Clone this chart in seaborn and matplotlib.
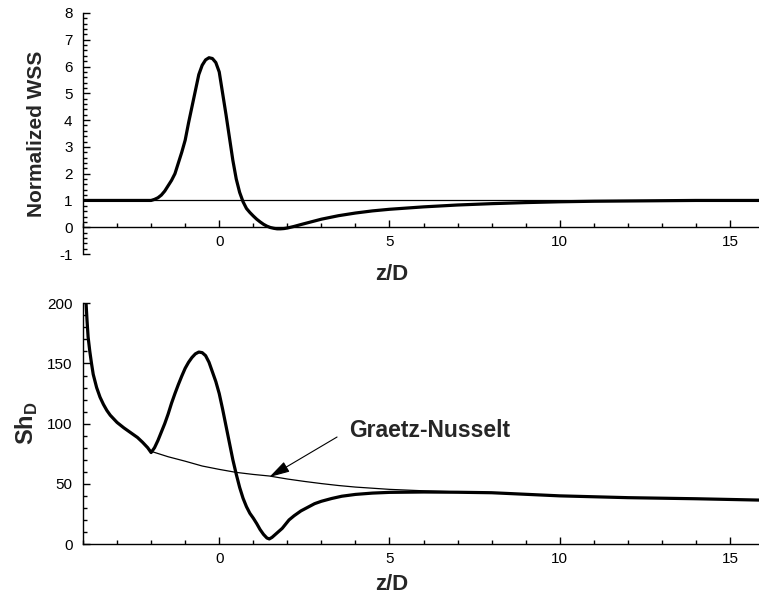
import matplotlib
matplotlib.use("Agg")
import matplotlib.pyplot as plt
from matplotlib.ticker import MultipleLocator
import numpy as np
import pandas as pd
import seaborn as sns

# ---------------- data ----------------
z_wss = [-4.0, -3.0, -2.0, -1.9, -1.8, -1.7, -1.6, -1.5, -1.4, -1.3,
         -1.2, -1.1, -1.0, -0.9, -0.8, -0.7, -0.6, -0.5, -0.4, -0.3,
         -0.2, -0.1, 0.0, 0.1, 0.2, 0.3, 0.4, 0.5, 0.6, 0.7,
         0.8, 0.9, 1.0, 1.1, 1.2, 1.3, 1.4, 1.5, 1.6, 1.7,
         1.8, 1.9, 2.0, 2.2, 2.4, 2.7, 3.0, 3.5, 4.0, 4.5,
         5.0, 6.0, 7.0, 8.0, 9.0, 10.0, 11.0, 12.0, 13.0, 14.0, 15.85]
wss = [1.0, 1.0, 1.0, 1.04, 1.1, 1.2, 1.35, 1.55, 1.75, 2.0,
       2.4, 2.8, 3.25, 3.9, 4.5, 5.1, 5.7, 6.05, 6.25, 6.33,
       6.3, 6.15, 5.8, 5.0, 4.2, 3.35, 2.5, 1.8, 1.3, 0.95,
       0.7, 0.55, 0.42, 0.3, 0.2, 0.11, 0.04, -0.01, -0.04, -0.06,
       -0.06, -0.05, -0.03, 0.03, 0.1, 0.2, 0.3, 0.43, 0.53, 0.61,
       0.67, 0.76, 0.83, 0.88, 0.92, 0.95, 0.97, 0.98, 0.99, 1.0, 1.0]
wss_ref = 1.0

z_sh = [-3.91, -3.88, -3.85, -3.8, -3.75, -3.7, -3.6, -3.5, -3.4, -3.3,
        -3.2, -3.0, -2.8, -2.6, -2.4, -2.25, -2.1, -2.0, -1.9, -1.8,
        -1.7, -1.6, -1.5, -1.4, -1.3, -1.2, -1.1, -1.0, -0.9, -0.8,
        -0.7, -0.6, -0.5, -0.4, -0.3, -0.2, -0.1, 0.0, 0.1, 0.2,
        0.3, 0.4, 0.5, 0.6, 0.7, 0.8, 0.9, 1.0, 1.1, 1.2,
        1.3, 1.4, 1.47, 1.55, 1.65, 1.75, 1.85, 1.95, 2.05, 2.2,
        2.4, 2.6, 2.8, 3.0, 3.3, 3.6, 4.0, 4.5, 5.0, 6.0,
        7.0, 8.0, 9.0, 10.0, 12.0, 14.0, 15.85]
sh = [200, 185, 172, 160, 150, 141, 130, 122, 116, 111,
      107, 101, 96.5, 92.5, 88.5, 84.5, 80, 76, 80, 86,
      93, 100, 108, 117, 125, 132.5, 139.5, 146, 151, 155,
      158, 159.5, 159, 156.5, 151, 143, 135, 125, 112, 98,
      84, 70, 58, 47, 38, 31, 25.5, 21.5, 17, 12,
      8, 5, 4.2, 5.5, 8, 10.5, 13, 16.5, 20, 23.5,
      27.5, 30.5, 33.5, 35.5, 37.8, 39.7, 41.2, 42.3, 42.9, 43.2,
      43.0, 42.6, 41.3, 40.0, 38.5, 37.6, 36.5]

z_gn = [-3.91, -3.88, -3.85, -3.8, -3.75, -3.7, -3.6, -3.5, -3.4, -3.3,
        -3.2, -3.0, -2.8, -2.6, -2.4, -2.2, -2.0, -1.5, -1.0, -0.5,
        0.0, 0.5, 1.0, 1.47, 2.0, 2.5, 3.0, 3.5, 4.0, 5.0,
        6.0, 7.0, 8.0, 9.0, 10.0, 12.0, 14.0, 15.85]
gn = [200, 185, 172, 160, 150, 141, 130, 122, 116, 111,
      107, 101, 96.5, 92.5, 88.5, 83, 77, 72.5, 68.8, 64.8,
      62.0, 59.5, 57.8, 56.5, 54.0, 52.0, 50.2, 48.6, 47.3, 45.4,
      44.2, 43.3, 42.7, 41.4, 40.0, 38.5, 37.6, 36.5]

gn_label = "Graetz-Nusselt"
gn_arrow_head = (1.47, 55.6)
gn_arrow_tail = (3.46, 88.9)
gn_text_pos = (3.82, 94.7)

# ---------------- style ----------------
sns.set_theme(style="ticks")
plt.rcParams["font.family"] = ["Liberation Sans", "DejaVu Sans"]
plt.rcParams["mathtext.fontset"] = "custom"
plt.rcParams["mathtext.rm"] = "Liberation Sans"
plt.rcParams["mathtext.bf"] = "Liberation Sans:bold"
plt.rcParams["axes.linewidth"] = 1.0
plt.rcParams["axes.unicode_minus"] = False

W, H = 759, 602
fig = plt.figure(figsize=(W / 100, H / 100), dpi=100)
left = 83 / W
width = 1.0 - left
ax1 = fig.add_axes([left, 1 - 254 / H, width, 241 / H])
ax2 = fig.add_axes([left, 1 - 544 / H, width, 240.7 / H])

df_wss = pd.DataFrame({"z": z_wss, "v": wss})
df_sh = pd.DataFrame({"z": z_sh, "v": sh})
df_gn = pd.DataFrame({"z": z_gn, "v": gn})

# top panel
ax1.axhline(wss_ref, color="black", lw=0.9, zorder=1)
sns.lineplot(data=df_wss, x="z", y="v", ax=ax1, color="black", lw=2.3,
             estimator=None, sort=False, zorder=3)
ax1.set_xlim(-4, 15.85)
ax1.set_ylim(-1, 8)

# bottom panel
sns.lineplot(data=df_gn, x="z", y="v", ax=ax2, color="black", lw=0.9,
             estimator=None, sort=False, zorder=2)
sns.lineplot(data=df_sh, x="z", y="v", ax=ax2, color="black", lw=2.3,
             estimator=None, sort=False, zorder=3)
ax2.set_xlim(-4, 15.85)
ax2.set_ylim(0, 200)

ax2.annotate("", xy=gn_arrow_head, xytext=gn_arrow_tail,
             arrowprops=dict(arrowstyle="-|>,head_length=0.9,head_width=0.25",
                             color="black", lw=0.8, mutation_scale=14,
                             shrinkA=0, shrinkB=0))
ax2.text(gn_text_pos[0], gn_text_pos[1], gn_label, ha="left", va="center",
         fontsize=16.5, fontweight="bold")

for ax in (ax1, ax2):
    for s in ("top", "right"):
        ax.spines[s].set_visible(False)
    ax.spines["left"].set_linewidth(1.0)
    ax.spines["bottom"].set_linewidth(1.0)
    ax.spines["left"].set_color("black")
    ax.spines["bottom"].set_color("black")
    ax.xaxis.set_major_locator(MultipleLocator(5))
    ax.xaxis.set_minor_locator(MultipleLocator(1))
    ax.tick_params(which="major", direction="in", length=5, width=1.0,
                   labelsize=11, color="black", labelcolor="black")
    ax.tick_params(which="minor", direction="in", length=3, width=1.0,
                   color="black")
    ax.tick_params(axis="x", which="major", pad=5.5)
    ax.tick_params(axis="y", which="major", pad=7.5)
    ax.set_xlabel("z/D", fontsize=16, fontweight="bold")
    ax.xaxis.label.set_va("center")

ax1.spines["bottom"].set_position(("data", 0))
ax1.yaxis.set_major_locator(MultipleLocator(1))
ax1.yaxis.set_minor_locator(MultipleLocator(0.2))
ax2.yaxis.set_major_locator(MultipleLocator(50))
ax2.yaxis.set_minor_locator(MultipleLocator(10))

ax1.set_ylabel("Normalized WSS", fontsize=15, fontweight="bold")
ax2.set_ylabel(r"$\mathbf{Sh}_\mathbf{D}$", fontsize=17)
for ax in (ax1, ax2):
    ax.yaxis.label.set_va("center")

ax1.xaxis.set_label_coords((392 - 83) / 676, (254 - 275) / 241)
ax2.xaxis.set_label_coords((392 - 83) / 676, (544 - 585) / 240.7)
ax1.yaxis.set_label_coords((36 - 83) / 676, 0.5)
ax2.yaxis.set_label_coords((27 - 83) / 676, 0.5)

fig.savefig("out.png", dpi=100)
